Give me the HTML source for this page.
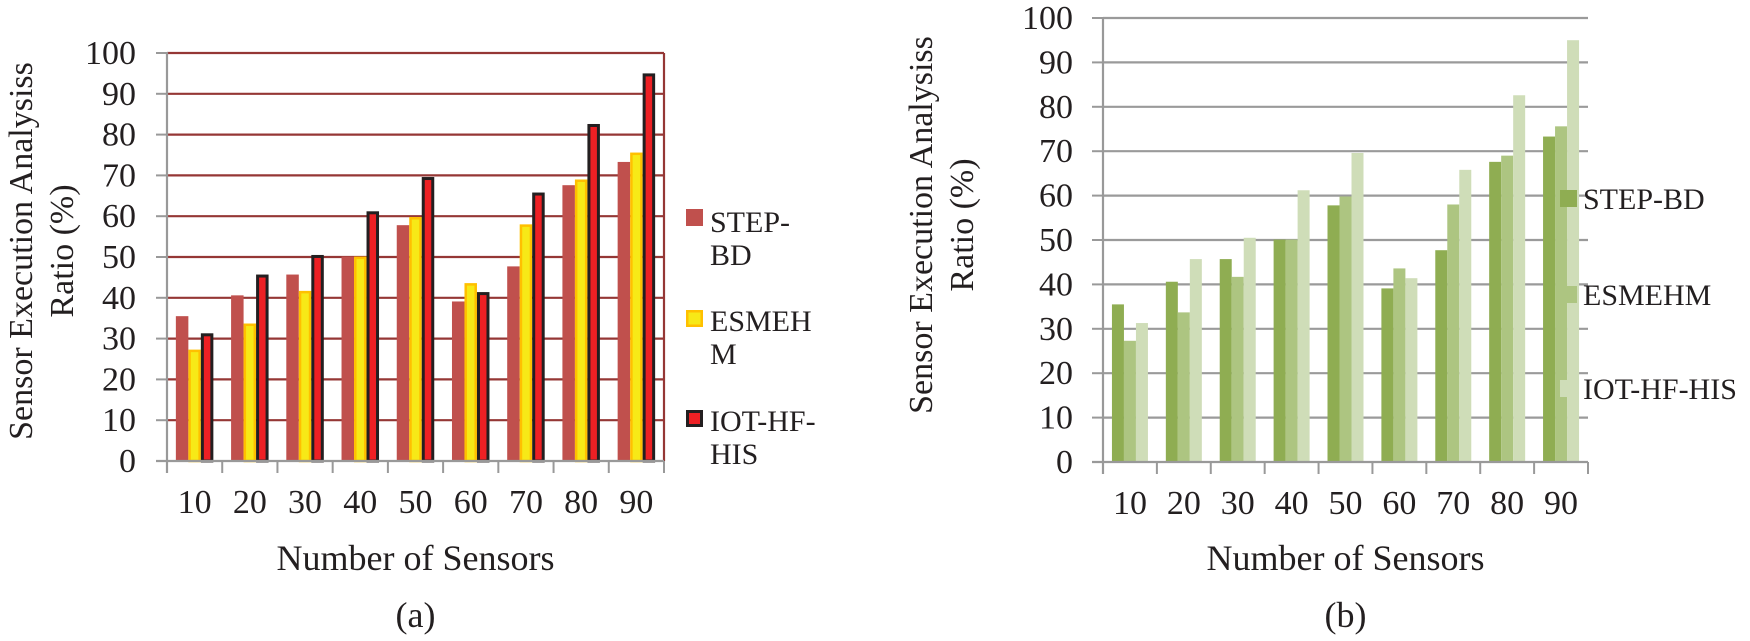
<!DOCTYPE html>
<html><head><meta charset="utf-8"><style>
html,body{margin:0;padding:0;background:#fff}
svg{display:block}
text{font-family:"Liberation Serif",serif;fill:#231f20}
</style></head><body>
<svg id="svg" width="1750" height="641" viewBox="0 0 1750 641">
<g id="ga"></g>
<g id="gb"></g>
</svg>
<script>
const categories = ["10","20","30","40","50","60","70","80","90"];
const stepBD = [35.5,40.6,45.7,50.1,57.8,39.1,47.7,67.6,73.3];
const esmehm = [27.3,33.7,41.7,50.1,59.8,43.6,58.0,69.0,75.6];
const iotHfHis = [31.3,45.7,50.5,61.2,69.6,41.4,65.8,82.6,95.0];
const yTicks = [0,10,20,30,40,50,60,70,80,90,100];
const seriesNames = ["STEP-BD","ESMEHM","IOT-HF-HIS"];

const NS='http://www.w3.org/2000/svg';
function mk(parent,tag,attrs,txt){const e=document.createElementNS(NS,tag);for(const k in attrs)e.setAttribute(k,attrs[k]);if(txt!==undefined)e.textContent=txt;parent.appendChild(e);return e;}

function drawChart(g,cfg){
  const yS=v=>cfg.y0-(v/100)*(cfg.y0-cfg.y100);
  const gw=(cfg.x1-cfg.x0)/categories.length;
  const xC=i=>cfg.x0+gw*(i+0.5);
  yTicks.forEach(t=>{
    if(t>0){const l=mk(g,'line',{x1:cfg.x0,x2:cfg.x1,y1:yS(t),y2:yS(t),stroke:cfg.grid,'stroke-width':2.2});
    
    }
    const tk=mk(g,'line',{x1:cfg.x0-11,x2:cfg.x0,y1:yS(t),y2:yS(t),stroke:'#999','stroke-width':2});
    
    
    const tx=mk(g,'text',{x:cfg.labelX,y:yS(t)+11,'text-anchor':'end','font-size':34},String(t));
    
    
  });
  if(cfg.border){const b=mk(g,'line',{x1:cfg.x1,x2:cfg.x1,y1:yS(100),y2:cfg.y0,stroke:cfg.grid,'stroke-width':2.2});
    
    }
  const series=[stepBD,esmehm,iotHfHis];
  const bw=cfg.bw;
  series.forEach((s,si)=>{
    s.forEach((v,i)=>{
      const x=xC(i)-1.5*bw+si*bw;
      const st=cfg.styles[si];
      const r=mk(g,'rect',{x:x+st.sw/2,y:yS(v)+st.sw/2,width:bw-st.sw,height:cfg.y0-yS(v)-st.sw/2,fill:st.fill,stroke:st.stroke||'none','stroke-width':st.sw});
      
      
    });
  });
  const ya=mk(g,'line',{x1:cfg.x0,x2:cfg.x0,y1:yS(100)-1,y2:cfg.y0+12,stroke:'#999','stroke-width':2.2});
  
  
  const xa=mk(g,'line',{x1:cfg.x0-11,x2:cfg.x1,y1:cfg.y0,y2:cfg.y0,stroke:'#999','stroke-width':2.2});
  
  
  for(let i=0;i<=categories.length;i++){
    const t=mk(g,'line',{x1:cfg.x0+gw*i,x2:cfg.x0+gw*i,y1:cfg.y0,y2:cfg.y0+12,stroke:'#999','stroke-width':2});
    
    
  }
  categories.forEach((c,i)=>{
    const t=mk(g,'text',{x:xC(i),y:cfg.y0+52,'text-anchor':'middle','font-size':34},c);
    
    
  });
  const xt=mk(g,'text',{x:(cfg.x0+cfg.x1)/2,y:570,'text-anchor':'middle','font-size':36},'Number of Sensors');
  
  
  const cap=mk(g,'text',{x:(cfg.x0+cfg.x1)/2,y:627,'text-anchor':'middle','font-size':36},cfg.caption);
  
  
  const yt=mk(g,'text',{transform:`translate(${cfg.titleX},${cfg.titleY}) rotate(-90)`,'text-anchor':'middle','font-size':34});
  
  
  mk(yt,'tspan',{x:0,y:0},'Sensor Execution Analysiss');
  mk(yt,'tspan',{x:0,y:cfg.titleGap},'Ratio (%)');
  cfg.legend.forEach((L,si)=>{
    const st=cfg.styles[si];
    const sq=mk(g,'rect',{x:L.sx+st.sw/2,y:L.sy+st.sw/2,width:17-st.sw,height:17-st.sw,fill:st.fill,stroke:st.stroke||'none','stroke-width':st.sw});
    
    
    const t=mk(g,'text',{x:L.tx,y:L.ty,'font-size':30});
    
    
    L.lines.forEach((ln,k)=>mk(t,'tspan',{x:L.tx,y:L.ty+k*33},ln));
  });
}

drawChart(document.getElementById('ga'),{
  x0:167,x1:664,y0:461,y100:53,bw:12.5,grid:'#953735',border:true,labelX:136,
  caption:'(a)',titleX:32,titleY:251,titleGap:41,
  styles:[{fill:'#c0504d',sw:0},{fill:'#f7e917',stroke:'#ffc000',sw:2.5},{fill:'#ed2024',stroke:'#231f20',sw:3}],
  legend:[
    {sx:686,sy:209,tx:710,ty:232,lines:['STEP-','BD']},
    {sx:686,sy:310,tx:710,ty:331,lines:['ESMEH','M']},
    {sx:686,sy:410,tx:710,ty:431,lines:['IOT-HF-','HIS']}
  ]
});
drawChart(document.getElementById('gb'),{
  x0:1103,x1:1588,y0:462,y100:18,bw:12,grid:'#9a9a9a',border:false,labelX:1073,
  caption:'(b)',titleX:932,titleY:225,titleGap:41,
  styles:[{fill:'#8fad52',sw:0},{fill:'#adc581',sw:0},{fill:'#cfddb8',sw:0}],
  legend:[
    {sx:1560,sy:190,tx:1583,ty:209,lines:['STEP-BD']},
    {sx:1560,sy:286,tx:1583,ty:305,lines:['ESMEHM']},
    {sx:1560,sy:380,tx:1583,ty:399,lines:['IOT-HF-HIS']}
  ]
});
</script>
</body></html>
